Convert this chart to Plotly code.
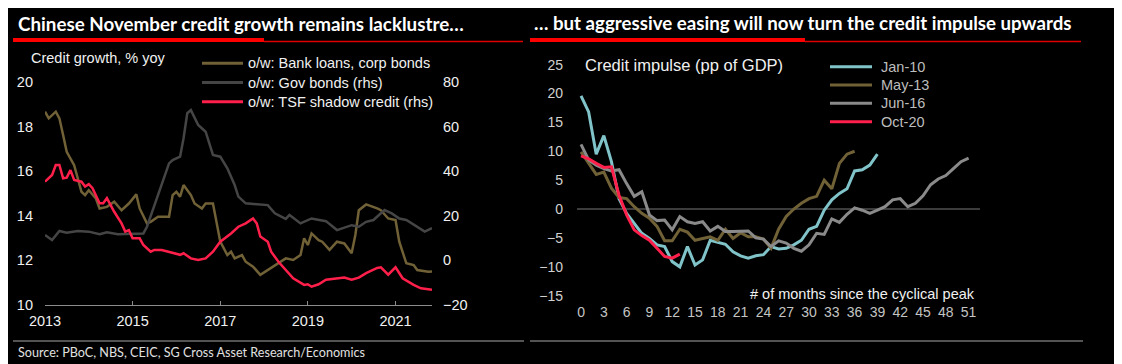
import plotly.graph_objects as go

# The page places the figure 8px in from the top-left corner, so every layout
# position below is given in window pixels and shifted by that offset.
OFF = 8
FW, FH = 1122 - OFF, 364 - OFF

# ---------------- Left chart data ----------------
bank_dates = ["2013-01","2013-02","2013-04","2013-05","2013-06","2013-07","2013-09","2013-10","2013-11","2013-12",
              "2014-01","2014-03","2014-04","2014-06","2014-08","2014-10","2014-12","2015-02","2015-03","2015-05",
              "2015-06","2015-08","2015-11","2015-12","2016-01","2016-02","2016-03","2016-05","2016-06","2016-08",
              "2016-09","2016-11","2016-12","2017-01","2017-03","2017-04","2017-05","2017-07","2017-08","2017-10",
              "2017-12","2018-02","2018-04","2018-07","2018-09","2018-11","2018-12","2019-01","2019-02","2019-04",
              "2019-05","2019-07","2019-09","2019-11","2020-01","2020-02","2020-03","2020-05","2020-08","2020-09",
              "2020-11","2021-01","2021-02","2021-04","2021-06","2021-07","2021-10","2021-11"]
bank_vals = [18.67,18.37,18.67,18.37,17.62,16.87,16.27,15.68,15.08,14.93,
             15.15,14.78,14.33,14.40,14.63,14.25,14.55,14.96,14.33,13.66,
             13.73,13.96,13.96,14.93,15.08,14.86,15.38,14.93,14.55,14.33,
             14.55,14.55,13.73,12.84,12.24,12.39,12.09,12.24,11.94,11.72,
             11.35,11.57,11.79,12.09,12.02,12.24,12.99,12.69,13.21,12.91,
             12.84,12.47,12.84,12.76,12.32,13.14,14.25,14.51,14.33,14.25,
             13.88,13.81,12.84,11.87,11.79,11.57,11.49,11.50]

gov_dates = ["2013-01","2013-03","2013-05","2013-07","2013-10","2014-01","2014-04","2014-06","2014-09","2015-01",
             "2015-04","2015-05","2015-07","2015-09","2015-11","2015-12","2016-02","2016-03","2016-04","2016-05",
             "2016-06","2016-07","2016-09","2016-11","2017-01","2017-03","2017-05","2017-06","2017-08","2018-02",
             "2018-04","2018-07","2018-08","2018-11","2019-02","2019-06","2019-09","2019-11","2020-01","2020-03",
             "2020-05","2020-07","2020-09","2020-10","2020-12","2021-02","2021-04","2021-07","2021-09","2021-11"]
gov_vals = [11.4,9.1,13.2,12.4,13.2,12.9,11.7,12.6,11.7,12.1,
            12.1,15.1,24.8,34.6,43.5,45.0,46.5,54.8,66.0,67.4,
            63.7,60.7,57.7,47.3,46.5,41.3,33.8,28.6,25.6,24.8,
            21.1,18.6,20.4,16.6,18.8,17.6,13.6,14.6,15.8,15.1,
            17.3,18.1,21.1,22.6,21.1,18.8,18.1,15.1,12.9,14.5]

tsf_dates = ["2013-01","2013-02","2013-03","2013-04","2013-05","2013-06","2013-07","2013-08","2013-09","2013-11",
             "2013-12","2014-01","2014-02","2014-04","2014-05","2014-06","2014-08","2014-10","2014-11","2014-12",
             "2015-01","2015-03","2015-04","2015-06","2015-07","2015-09","2015-12","2016-02","2016-03","2016-05",
             "2016-07","2016-09","2016-11","2017-01","2017-04","2017-06","2017-08","2017-10","2017-11","2017-12",
             "2018-02","2018-03","2018-05","2018-07","2018-09","2018-12","2019-01","2019-02","2019-04","2019-06",
             "2019-08","2019-11","2020-01","2020-03","2020-05","2020-08","2020-09","2020-11","2021-01","2021-03",
             "2021-06","2021-08","2021-11"]
tsf_vals = [35.3,36.8,38.3,42.8,42.8,36.8,37.1,40.5,36.1,35.3,
            33.1,34.2,32.4,25.6,25.6,27.9,21.8,16.6,12.9,13.6,
            9.9,9.9,6.9,3.9,4.7,4.7,3.2,2.5,3.2,0.9,
            0.2,0.9,3.9,8.4,12.1,15.1,16.6,18.8,16.6,10.7,
            8.4,3.9,-0.6,-4.3,-8.0,-11.0,-10.7,-11.8,-10.7,-8.7,
            -8.4,-7.7,-8.7,-7.7,-5.7,-3.4,-3.1,-6.4,-3.1,-8.0,
            -11.0,-12.5,-13.2]

left_names = ["o/w: Bank loans, corp bonds", "o/w: Gov bonds (rhs)", "o/w: TSF shadow credit (rhs)"]
left_year_ticks = ["2013-01-01","2015-01-01","2017-01-01","2019-01-01","2021-01-01"]
left_year_labels = ["2013","2015","2017","2019","2021"]

# ---------------- Right chart data ----------------
months = list(range(0, 52))
jan10 = [19.6,16.8,9.5,12.7,8.2,1.8,-0.75,-2.5,-4.2,-5.1,
         -6.2,-6.5,-9.1,-10.0,-6.5,-9.7,-8.8,-5.4,-5.8,-6.1,
         -7.4,-8.1,-8.5,-8.1,-7.9,-6.5,-6.9,-6.8,-6.2,-5.4,
         -3.5,-3.0,-0.2,1.6,2.7,3.5,6.6,6.8,7.6,9.5]
may13 = [9.9,7.9,6.0,6.4,3.6,2.0,1.8,0.4,-0.75,-1.6,
         -3.0,-5.5,-5.5,-3.5,-4.0,-5.4,-5.1,-4.8,-5.4,-3.5,
         -5.1,-4.1,-4.8,-4.8,-5.2,-6.8,-3.5,-1.3,0.0,1.0,
         1.8,2.2,5.0,3.5,7.9,9.5,10.0]
jun16 = [11.2,8.5,7.6,7.0,6.6,6.8,4.4,2.2,3.0,-1.0,
         -2.0,-1.9,-3.6,-1.3,-2.2,-2.5,-2.2,-3.8,-3.0,-3.9,
         -3.9,-3.9,-3.8,-5.0,-5.2,-6.5,-5.5,-5.9,-6.8,-7.3,
         -6.2,-4.2,-4.4,-1.7,-2.3,-0.9,0.2,-0.2,-0.75,-0.2,
         0.4,1.6,1.8,0.4,1.0,2.3,4.2,5.2,5.8,7.0,
         8.2,8.8]
oct20 = [9.2,8.7,7.9,7.2,7.3,2.4,-1.0,-3.6,-4.6,-5.4,
         -6.8,-8.2,-8.5,-7.8]
right_names = ["Jan-10", "May-13", "Jun-16", "Oct-20"]
right_ticks = list(range(0, 52, 3))
right_yticks = list(range(-15, 30, 5))

# ---------------- Styles ----------------
BROWN = "#716137"
DGRAY = "#454545"
RED = "#ff1f4b"
TEAL = "#80c4ca"
MGRAY = "#8a8a8a"
AX_FONT = "Liberation Sans, Arial, sans-serif"
TITLE_FONT = "Lato, sans-serif"


def px(x):
    return (x - OFF) / FW


def py(y):
    return 1 - (y - OFF) / FH


fig = go.Figure()

left_series = [(bank_dates, bank_vals, BROWN, "y"), (gov_dates, gov_vals, DGRAY, "y2"),
               (tsf_dates, tsf_vals, RED, "y2")]
for name, (xs, ys, col, yax) in zip(left_names, left_series):
    fig.add_trace(go.Scatter(x=xs, y=ys, mode="lines", name=name, showlegend=False,
                             line=dict(color=col, width=2.5), xaxis="x", yaxis=yax))

right_series = [(jan10, TEAL), (may13, BROWN), (jun16, MGRAY), (oct20, RED)]
for name, (vals, col) in zip(right_names, right_series):
    fig.add_trace(go.Scatter(x=months[:len(vals)], y=vals, mode="lines", name=name, showlegend=False,
                             line=dict(color=col, width=3), xaxis="x3", yaxis="y3"))

fig.update_layout(
    width=FW, height=FH,
    margin=dict(l=0, r=0, t=0, b=0, autoexpand=False),
    paper_bgcolor="#000000", plot_bgcolor="#000000",
    font=dict(family=AX_FONT, size=14, color="#f0f0f0"),
    showlegend=False,
    xaxis=dict(domain=[px(45), px(432)], type="date", range=["2013-01-01", "2021-11-01"],
               tickvals=left_year_ticks, ticktext=left_year_labels,
               showline=True, linecolor="#8c8c8c", linewidth=1,
               ticks="inside", ticklen=4, tickcolor="#8c8c8c", tickwidth=1,
               showgrid=False, zeroline=False, ticklabelstandoff=3,
               tickfont=dict(size=14.5, color="#f0f0f0"), anchor="y", automargin=False),
    yaxis=dict(domain=[py(305), py(82)], range=[10, 20], tickvals=[10, 12, 14, 16, 18, 20],
               showgrid=False, zeroline=False, showline=False, ticks="",
               ticklabelstandoff=11, tickfont=dict(size=14.5, color="#f0f0f0"), anchor="x",
               automargin=False),
    yaxis2=dict(overlaying="y", side="right", range=[-20, 80], tickvals=[-20, 0, 20, 40, 60, 80],
                showgrid=False, zeroline=False, showline=False, ticks="",
                ticklabelstandoff=10, tickfont=dict(size=14.5, color="#f0f0f0"), anchor="x",
                automargin=False),
    xaxis3=dict(domain=[px(577), px(980)], range=[-0.53, 52.5], tickvals=right_ticks,
                showgrid=False, zeroline=False, showline=False, ticks="",
                ticklabelstandoff=6, tickfont=dict(size=14, color="#c4c4c4"), anchor="y3",
                automargin=False),
    yaxis3=dict(domain=[py(295.7), py(64.6)], range=[-15, 25], tickvals=right_yticks,
                showgrid=False, zeroline=True, zerolinecolor="#3c3c3c", zerolinewidth=2,
                showline=False, ticks="", ticklabelstandoff=13,
                tickfont=dict(size=14, color="#d0d0d0"), anchor="x3", automargin=False),
)

shapes = [
    dict(x0=px(13), x1=px(264), y0=py(40), y1=py(40), line=dict(color="#ff0000", width=4)),
    dict(x0=px(264), x1=px(523), y0=py(41.5), y1=py(41.5), line=dict(color="#e00000", width=1.5)),
    dict(x0=px(530), x1=px(805), y0=py(40), y1=py(40), line=dict(color="#ff0000", width=4)),
    dict(x0=px(805), x1=px(1081), y0=py(41.5), y1=py(41.5), line=dict(color="#e00000", width=1.5)),
    dict(x0=px(13), x1=px(524), y0=py(341), y1=py(341), line=dict(color="#a6a6a6", width=1)),
    dict(x0=px(530), x1=px(1083), y0=py(341), y1=py(341), line=dict(color="#a6a6a6", width=1)),
]

annots = [
    dict(x=px(16), y=py(23), text="<b>Chinese November credit growth remains lacklustre…</b>",
         font=dict(family=TITLE_FONT, size=18.8, color="#ffffff"), xanchor="left"),
    dict(x=px(532), y=py(23), text="<b>… but aggressive easing will now turn the credit impulse upwards</b>",
         font=dict(family=TITLE_FONT, size=18.7, color="#ffffff"), xanchor="left"),
    dict(x=px(29), y=py(58), text="Credit growth, % yoy",
         font=dict(family=AX_FONT, size=14.5, color="#f0f0f0"), xanchor="left"),
    dict(x=px(583), y=py(65), text="Credit impulse (pp of GDP)",
         font=dict(family=AX_FONT, size=16.5, color="#f0f0f0"), xanchor="left"),
    dict(x=px(977), y=py(294), text="# of months since the cyclical peak",
         font=dict(family=AX_FONT, size=14.5, color="#f0f0f0"), xanchor="right"),
    dict(x=px(16), y=py(352), text="Source: PBoC, NBS, CEIC, SG Cross Asset Research/Economics",
         font=dict(family=TITLE_FONT, size=12.6, color="#e0e0e0"), xanchor="left"),
]

# manual legends (line sample + label), built from the series names/colours
left_rows = [63.3, 82.5, 101.7]
for name, (_, _, col, _), yy in zip(left_names, left_series, left_rows):
    shapes.append(dict(x0=px(202), x1=px(243), y0=py(yy), y1=py(yy), line=dict(color=col, width=3)))
    annots.append(dict(x=px(246), y=py(yy), text=name, xanchor="left",
                       font=dict(family=AX_FONT, size=14.5, color="#f0f0f0")))
right_rows = [66.7, 85.0, 103.3, 121.7]
for name, (_, col), yy in zip(right_names, right_series, right_rows):
    shapes.append(dict(x0=px(830), x1=px(872), y0=py(yy), y1=py(yy), line=dict(color=col, width=3)))
    annots.append(dict(x=px(879), y=py(yy), text=name, xanchor="left",
                       font=dict(family=AX_FONT, size=14.5, color="#bdbdbd")))

for s in shapes:
    s.update(type="line", xref="paper", yref="paper")
for a in annots:
    a.update(xref="paper", yref="paper", yanchor="middle", showarrow=False)
fig.update_layout(shapes=shapes, annotations=annots)

fig.write_html("out.html")
